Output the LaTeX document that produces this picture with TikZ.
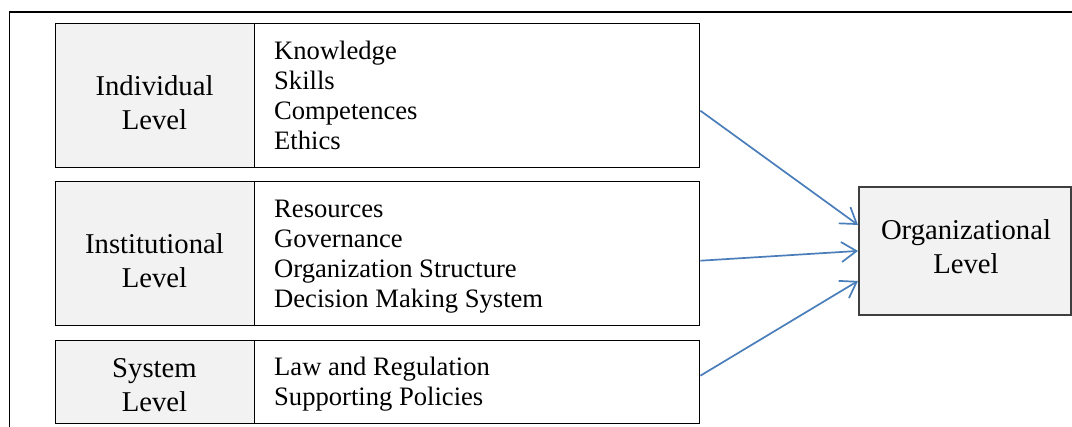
\documentclass[tikz,border=0pt]{standalone}
\usepackage{fontspec}
\setmainfont{Liberation Serif}
\usetikzlibrary{arrows.meta}
\definecolor{cellgray}{HTML}{F2F2F2}
\definecolor{arrowblue}{HTML}{4A7EBB}
\definecolor{orgborder}{HTML}{3F3F3F}
\begin{document}
\begin{tikzpicture}[x=1pt,y=-1pt,
  cell/.style={draw=black, line width=1.4pt, rectangle, inner sep=0pt, anchor=north west},
  graycell/.style={cell, fill=cellgray},
  lefttxt/.style={font=\fontsize{28.7}{34}\selectfont, align=center, inner sep=0pt, anchor=base},
  righttxt/.style={font=\fontsize{26.6}{30.3}\selectfont, align=left, inner sep=0pt, anchor=base west},
  conn/.style={draw=arrowblue, line width=1.7pt, -{Straight Barb[length=15pt,width=20pt,line width=1.7pt]}},
  frameline/.style={draw=black, line width=1.5pt}
]
\useasboundingbox (0,0) rectangle (1072,427);
\fill[white] (0,0) rectangle (1072,427);
% outer frame
\draw[frameline] (1072,12) -- (9.5,12) -- (9.5,427);

% Individual level
\node[graycell, minimum width=199pt, minimum height=144pt] (indL) at (55,23) {};
\node[cell, minimum width=445pt, minimum height=144pt] (indR) at (254,23) {};
\node[lefttxt] (indT) at (154.5,130) {Individual\\Level};
\node[righttxt] (indI) at (274,150) {Knowledge\\Skills\\Competences\\Ethics};

% Institutional level
\node[graycell, minimum width=199pt, minimum height=144pt] (insL) at (55,181) {};
\node[cell, minimum width=445pt, minimum height=144pt] (insR) at (254,181) {};
\node[lefttxt] (insT) at (154.5,288) {Institutional\\Level};
\node[righttxt] (insI) at (274,308) {Resources\\Governance\\Organization Structure\\Decision Making System};

% System level
\node[graycell, minimum width=199pt, minimum height=83pt] (sysL) at (55,340) {};
\node[cell, minimum width=445pt, minimum height=83pt] (sysR) at (254,340) {};
\node[lefttxt] (sysT) at (154.5,411.5) {System\\Level};
\node[righttxt] (sysI) at (274,406) {Law and Regulation\\Supporting Policies};

% Organizational level
\node[cell, draw=orgborder, line width=1.9pt, fill=cellgray, minimum width=212pt, minimum height=128pt] (org) at (858,186) {};
\node[lefttxt] (orgT) at (966,273.5) {Organizational\\Level};

% connectors
\draw[conn] ([yshift=-15pt]indR.east) -- ([yshift=26pt]org.west);
\draw[conn] ([yshift=-7pt]insR.east) -- (org.west);
\draw[conn] ([yshift=6.5pt]sysR.east) -- ([yshift=-30pt]org.west);
\end{tikzpicture}
\end{document}
